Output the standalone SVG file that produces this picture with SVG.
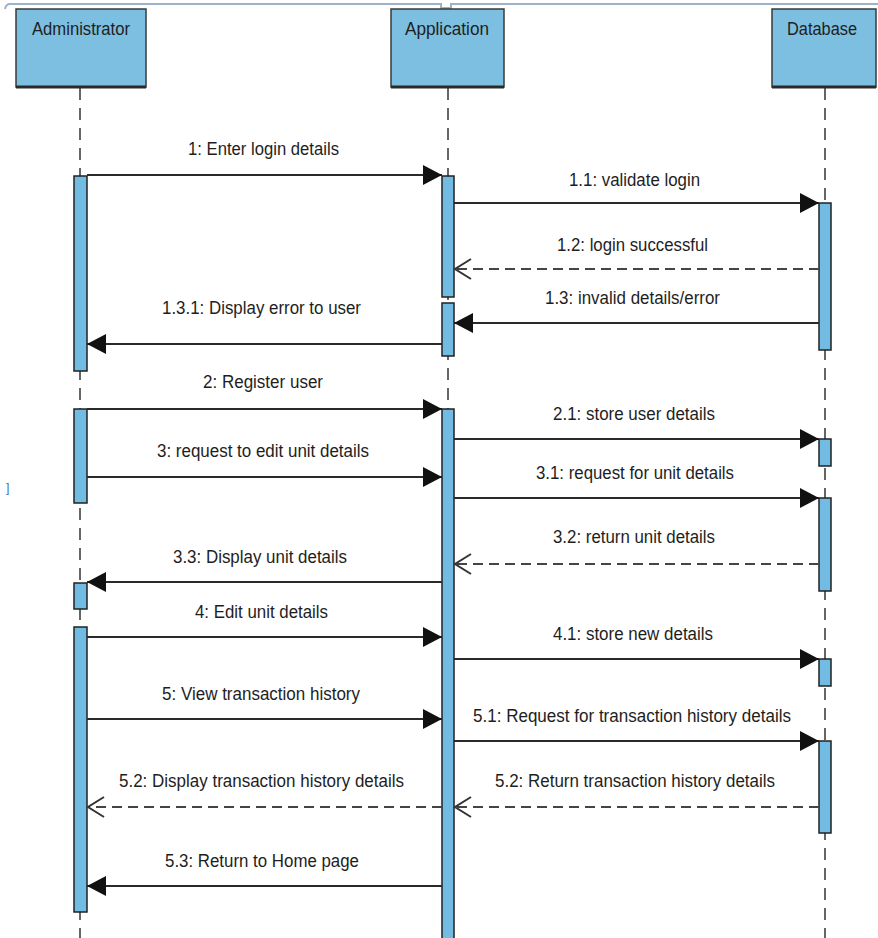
<svg xmlns="http://www.w3.org/2000/svg" width="878" height="938" viewBox="0 0 878 938">
<style>
.hdr{fill:#7dbfe0;stroke:#3a3a3a;stroke-width:1.5}
.hbot{stroke:#2a2a2a;stroke-width:3}
.life{stroke:#333;stroke-width:1.5;stroke-dasharray:12 8;fill:none}
.act{fill:#72bbe2;stroke:#222;stroke-width:1.5}
.msg{stroke:#2a2a2a;stroke-width:2;fill:none}
.ret{stroke:#444;stroke-width:2;stroke-dasharray:10 6;fill:none}
text{font-family:"Liberation Sans Narrow","Arial Narrow","Liberation Sans",Arial,sans-serif;font-size:17.5px;fill:#1e1e1e}
</style>
<defs>
<marker id="fa" viewBox="0 0 19 20" refX="19" refY="10" markerWidth="19" markerHeight="20" markerUnits="userSpaceOnUse" orient="auto">
<path d="M0,0 L19,10 L0,20 z" fill="#111"/>
</marker>
<marker id="oa" viewBox="0 0 20 22" refX="18" refY="11" markerWidth="20" markerHeight="22" markerUnits="userSpaceOnUse" orient="auto">
<path d="M2,1 L18,11 L2,21" fill="none" stroke="#333" stroke-width="2"/>
</marker>
</defs>

<g id="frame">
<path d="M5,9 Q6,4 10,4 L441,4 L441,8 L451,8 L451,4 L878,4" fill="none" stroke="#9db2c8" stroke-width="2"/>
</g>

<g id="lifelines">
<line class="life" x1="80" y1="88" x2="80" y2="938"/>
<line class="life" x1="448" y1="88" x2="448" y2="938"/>
<line class="life" x1="825" y1="88" x2="825" y2="938"/>
</g>

<g id="administrator">
<rect class="hdr" x="16" y="9" width="130" height="78"/>
<line class="hbot" x1="16" y1="87" x2="146" y2="87"/>
<text x="32" y="35" textLength="98" lengthAdjust="spacingAndGlyphs">Administrator</text>
</g>
<g id="application">
<rect class="hdr" x="391" y="9" width="113" height="78"/>
<line class="hbot" x1="391" y1="87" x2="504" y2="87"/>
<text x="405" y="35" textLength="84" lengthAdjust="spacingAndGlyphs">Application</text>
</g>
<g id="database">
<rect class="hdr" x="772" y="9" width="104" height="78"/>
<line class="hbot" x1="772" y1="87" x2="876" y2="87"/>
<text x="787" y="35" textLength="70" lengthAdjust="spacingAndGlyphs">Database</text>
</g>

<g id="activations">
<rect class="act" x="74" y="176" width="13" height="195"/>
<rect class="act" x="74" y="409" width="13" height="94"/>
<rect class="act" x="74" y="583" width="13" height="26"/>
<rect class="act" x="74" y="627" width="13" height="285"/>
<rect class="act" x="442" y="176" width="12" height="121"/>
<rect class="act" x="442" y="303" width="12" height="53"/>
<rect class="act" x="442" y="409" width="12" height="535"/>
<rect class="act" x="819" y="203" width="12" height="147"/>
<rect class="act" x="819" y="439" width="12" height="27"/>
<rect class="act" x="819" y="498" width="12" height="93"/>
<rect class="act" x="819" y="659" width="12" height="27"/>
<rect class="act" x="819" y="741" width="12" height="92"/>
</g>

<g id="connectors">
<line class="msg" x1="87" y1="175" x2="442" y2="175" marker-end="url(#fa)"/>
<line class="msg" x1="454" y1="203" x2="819" y2="203" marker-end="url(#fa)"/>
<line class="ret" x1="819" y1="269" x2="455" y2="269" marker-end="url(#oa)"/>
<line class="msg" x1="819" y1="323" x2="454" y2="323" marker-end="url(#fa)"/>
<line class="msg" x1="442" y1="344" x2="87" y2="344" marker-end="url(#fa)"/>
<line class="msg" x1="87" y1="409" x2="442" y2="409" marker-end="url(#fa)"/>
<line class="msg" x1="454" y1="439" x2="819" y2="439" marker-end="url(#fa)"/>
<line class="msg" x1="87" y1="477" x2="442" y2="477" marker-end="url(#fa)"/>
<line class="msg" x1="454" y1="498" x2="819" y2="498" marker-end="url(#fa)"/>
<line class="ret" x1="819" y1="564" x2="455" y2="564" marker-end="url(#oa)"/>
<line class="msg" x1="442" y1="582" x2="87" y2="582" marker-end="url(#fa)"/>
<line class="msg" x1="87" y1="637" x2="442" y2="637" marker-end="url(#fa)"/>
<line class="msg" x1="454" y1="659" x2="819" y2="659" marker-end="url(#fa)"/>
<line class="msg" x1="87" y1="719" x2="442" y2="719" marker-end="url(#fa)"/>
<line class="msg" x1="454" y1="741" x2="819" y2="741" marker-end="url(#fa)"/>
<line class="ret" x1="819" y1="807" x2="455" y2="807" marker-end="url(#oa)"/>
<line class="ret" x1="442" y1="807" x2="88" y2="807" marker-end="url(#oa)"/>
<line class="msg" x1="442" y1="886" x2="87" y2="886" marker-end="url(#fa)"/>
</g>

<g id="labels">
<text x="188" y="155" textLength="151" lengthAdjust="spacingAndGlyphs">1: Enter login details</text>
<text x="569" y="186" textLength="131" lengthAdjust="spacingAndGlyphs">1.1: validate login</text>
<text x="557" y="251" textLength="151" lengthAdjust="spacingAndGlyphs">1.2: login successful</text>
<text x="545" y="304" textLength="175" lengthAdjust="spacingAndGlyphs">1.3: invalid details/error</text>
<text x="162" y="314" textLength="199" lengthAdjust="spacingAndGlyphs">1.3.1: Display error to user</text>
<text x="203" y="388" textLength="120" lengthAdjust="spacingAndGlyphs">2: Register user</text>
<text x="553" y="420" textLength="162" lengthAdjust="spacingAndGlyphs">2.1: store user details</text>
<text x="157" y="457" textLength="212" lengthAdjust="spacingAndGlyphs">3: request to edit unit details</text>
<text x="536" y="479" textLength="198" lengthAdjust="spacingAndGlyphs">3.1: request for unit details</text>
<text x="553" y="543" textLength="162" lengthAdjust="spacingAndGlyphs">3.2: return unit details</text>
<text x="173" y="563" textLength="174" lengthAdjust="spacingAndGlyphs">3.3: Display unit details</text>
<text x="195" y="618" textLength="133" lengthAdjust="spacingAndGlyphs">4: Edit unit details</text>
<text x="553" y="640" textLength="160" lengthAdjust="spacingAndGlyphs">4.1: store new details</text>
<text x="162" y="700" textLength="198" lengthAdjust="spacingAndGlyphs">5: View transaction history</text>
<text x="473" y="722" textLength="318" lengthAdjust="spacingAndGlyphs">5.1: Request for transaction history details</text>
<text x="119" y="787" textLength="285" lengthAdjust="spacingAndGlyphs">5.2: Display transaction history details</text>
<text x="495" y="787" textLength="280" lengthAdjust="spacingAndGlyphs">5.2: Return transaction history details</text>
<text x="165" y="867" textLength="194" lengthAdjust="spacingAndGlyphs">5.3: Return to Home page</text>
<text x="6" y="492" style="font-size:12px;fill:#3a6fc0">]</text>
</g>
</svg>
